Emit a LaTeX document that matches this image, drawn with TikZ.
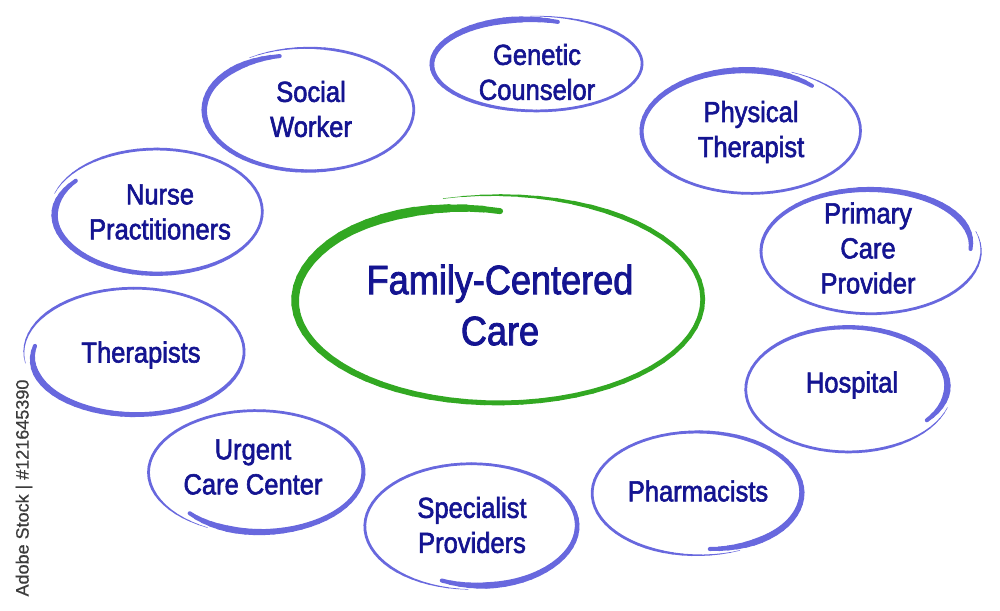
\documentclass[tikz,border=0pt]{standalone}
\usepackage{fontspec}
\setmainfont{Liberation Sans}
\newfontfamily\lblfont[FakeStretch=0.88,FakeBold=2]{Liberation Sans}
\newfontfamily\wmfont[FakeBold=0.6]{Liberation Sans}
\definecolor{txtblue}{RGB}{20,20,145}
\definecolor{ringblue}{RGB}{104,104,222}
\definecolor{ringgreen}{RGB}{50,168,34}
\definecolor{wmgray}{RGB}{60,60,60}
% #1 cx, #2 cy, #3 rx, #4 ry, #5 gap angle, #6 colour, #7 max width, #8 inward drop at end, #9 base width fraction
\newcommand{\brushring}[9]{%
  \foreach \i in {0,...,71}{%
    \pgfmathsetmacro\ta{#5-8+\i*5.2222}%
    \pgfmathsetmacro\tb{\ta+5.2222}%
    \pgfmathsetmacro\tt{\i/72}%
    \pgfmathsetmacro\tu{(\i+1)/72}%
    \pgfmathsetmacro\ra{1.04-0.04*\tt-#8*(max(0,(\tt-0.85)/0.15))^2}%
    \pgfmathsetmacro\rb{1.04-0.04*\tu-#8*(max(0,(\tu-0.85)/0.15))^2}%
    \pgfmathsetmacro\w{ifthenelse(\tt<0.12, 0.5+(#9*#7-0.5)*\tt/0.12,
       ifthenelse(\tt<0.5, #9*#7,
       ifthenelse(\tt<0.92, #9*#7+(1-#9)*#7*(\tt-0.5)/0.42, #7*(1-0.45*(\tt-0.92)/0.08))))}%
    \draw[ring, draw=#6, line width=\w pt]
      ({#1+#3*\ra*cos(\ta)},{#2+#4*\ra*sin(\ta)}) --
      ({#1+#3*\rb*cos(\tb)},{#2+#4*\rb*sin(\tb)});
  }%
}
\begin{document}
\begin{tikzpicture}[x=1pt,y=-1pt,
  lbl/.style={font=\lblfont\fontsize{29}{35}\selectfont, text=txtblue, align=center, inner sep=0pt},
  hub/.style={font=\lblfont\fontsize{41}{51}\selectfont, text=txtblue, align=center, inner sep=0pt},
  ring/.style={line cap=round, line join=round},
  wmtext/.style={font=\wmfont\fontsize{18}{20}\selectfont, text=wmgray, rotate=90, inner sep=0pt}]
\useasboundingbox (0,0) rectangle (1000,610);
\fill[white] (0,0) rectangle (1000,610);

% rings
\brushring{536}{64}{103}{46}{275}{ringblue}{6.5}{0.06}{0.42}
\brushring{308}{110}{103}{60}{245}{ringblue}{6.5}{0.06}{0.42}
\brushring{750}{131}{107}{61}{300}{ringblue}{6.5}{0.06}{0.42}
\brushring{157}{212}{103}{61}{205}{ringblue}{6.5}{0.06}{0.42}
\brushring{870}{251}{107}{61}{350}{ringblue}{6.5}{0.06}{0.42}
\brushring{135}{352}{107}{62}{178}{ringblue}{6.5}{0.06}{0.42}
\brushring{848}{389}{100}{61}{25}{ringblue}{6.5}{0.06}{0.42}
\brushring{257}{472}{105}{60}{125}{ringblue}{6.5}{0.06}{0.42}
\brushring{698}{493}{103}{60}{75}{ringblue}{6.5}{0.06}{0.42}
\brushring{472}{526}{104}{61}{100}{ringblue}{6.5}{0.06}{0.42}
\brushring{497}{300}{200}{101}{263}{ringgreen}{9.5}{0.12}{0.5}

% labels
\node[hub] (hub) at (500,305) {Family-Centered\\Care};
\node[lbl] (gen) at (537,72) {Genetic\\Counselor};
\node[lbl] (soc) at (311,109) {Social\\Worker};
\node[lbl] (phy) at (751,132) {Physical\\Therapist};
\node[lbl] (nur) at (160,212) {Nurse\\Practitioners};
\node[lbl] (pri) at (868,248) {Primary\\Care\\Provider};
\node[lbl] (the) at (141,355) {Therapists};
\node[lbl] (hos) at (852,385) {Hospital};
\node[lbl] (urg) at (253,467) {Urgent\\Care Center};
\node[lbl] (pha) at (698,491) {Pharmacists};
\node[lbl] (spe) at (472,525) {Specialist\\Providers};

\node[wmtext] (wm) at (24,488) {Adobe Stock \textbar\ \#121645390};
\end{tikzpicture}
\end{document}
